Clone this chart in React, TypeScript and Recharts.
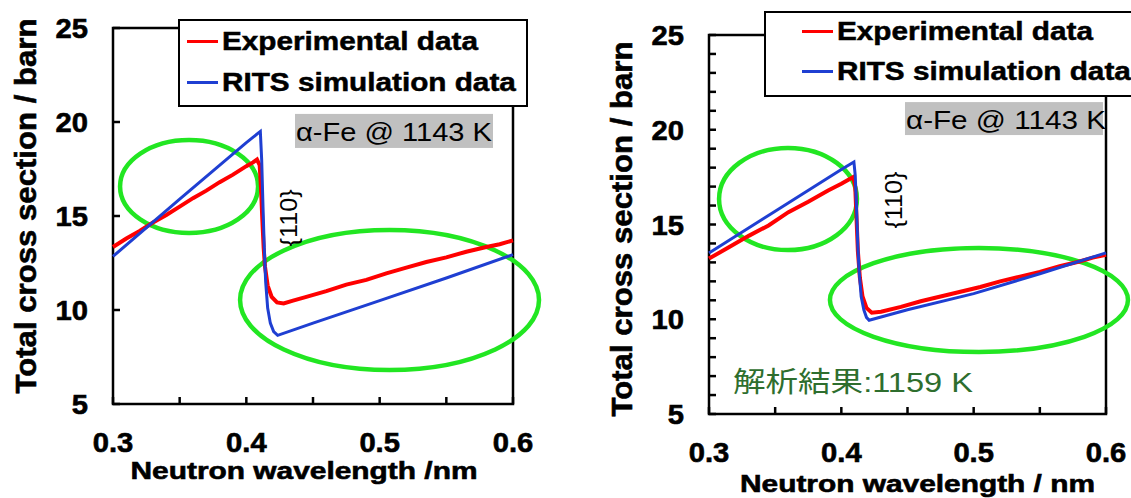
import React from 'react'
import {
  LineChart,
  Line,
  XAxis,
  YAxis,
  ReferenceArea,
  ReferenceDot,
  Legend,
} from 'recharts'

const FONT = '"Liberation Sans", Arial, Helvetica, sans-serif'
const JP_FONT = '"Liberation Sans", "Noto Sans CJK JP", sans-serif'

// #region data (wavelength in nm, cross section in barn)
// left panel
const leftExpWl = [0.3, 0.31, 0.32, 0.33, 0.34, 0.35, 0.36, 0.37, 0.38, 0.39, 0.4, 0.405, 0.408, 0.41, 0.411, 0.412, 0.413, 0.414, 0.416, 0.419, 0.423, 0.428, 0.435, 0.445, 0.46, 0.475, 0.49, 0.505, 0.52, 0.535, 0.55, 0.565, 0.58, 0.59, 0.6]
const leftExpCs = [13.35, 13.8, 14.2, 14.65, 15.05, 15.5, 15.95, 16.35, 16.8, 17.2, 17.65, 17.85, 18.0, 17.7, 16.5, 14.8, 13.3, 12.3, 11.3, 10.7, 10.4, 10.35, 10.5, 10.7, 11.0, 11.35, 11.6, 11.95, 12.25, 12.55, 12.8, 13.1, 13.35, 13.5, 13.7]
const leftSimWl = [0.3, 0.35, 0.4, 0.4105, 0.4115, 0.4125, 0.4135, 0.4145, 0.416, 0.418, 0.4205, 0.4235, 0.45, 0.5, 0.55, 0.6]
const leftSimCs = [12.85, 15.9, 18.9, 19.5, 18.0, 15.5, 13.2, 11.5, 10.1, 9.3, 8.85, 8.65, 9.3, 10.5, 11.7, 12.95]

// right panel
const rightExpWl = [0.3, 0.315, 0.33, 0.345, 0.36, 0.375, 0.39, 0.4, 0.405, 0.409, 0.4105, 0.4115, 0.4125, 0.414, 0.416, 0.419, 0.423, 0.43, 0.445, 0.46, 0.475, 0.49, 0.505, 0.52, 0.535, 0.55, 0.565, 0.58, 0.59, 0.6]
const rightExpCs = [13.2, 13.8, 14.4, 14.95, 15.65, 16.2, 16.8, 17.15, 17.35, 17.5, 17.0, 15.3, 13.6, 12.2, 11.2, 10.6, 10.35, 10.4, 10.65, 10.95, 11.2, 11.45, 11.7, 12.0, 12.25, 12.5, 12.8, 13.05, 13.25, 13.4]
const rightSimWl = [0.3, 0.35, 0.4, 0.4095, 0.4105, 0.4115, 0.4125, 0.4135, 0.415, 0.417, 0.419, 0.421, 0.45, 0.5, 0.55, 0.6]
const rightSimCs = [13.5, 15.7, 17.9, 18.3, 17.6, 15.8, 13.8, 12.5, 11.2, 10.5, 10.1, 9.95, 10.5, 11.35, 12.4, 13.5]

const xTicks = [0.3, 0.35, 0.4, 0.45, 0.5, 0.55, 0.6]
const leftYTicks = [5, 10, 15, 20, 25]
const rightYTicks = [5, 6, 7, 8, 9, 10, 11, 12, 13, 14, 15, 16, 17, 18, 19, 20, 21, 22, 23, 24, 25]

const seriesNames = ['Experimental data', 'RITS simulation data']
const sampleLabel = 'α-Fe @ 1143 K'
const peakLabel = '{110}'
const fitLabel = '解析結果:1159 K'
const yTitle = 'Total cross section / barn'
const xTitleLeft = 'Neutron wavelength /nm'
const xTitleRight = 'Neutron wavelength / nm'
// #endregion

type Pt = { wl: number; cs: number }
const zip = (wl: number[], cs: number[]): Pt[] => wl.map((w, i) => ({ wl: w, cs: cs[i] }))

type Box = [number, number, number, number] // x1, x2, y1, y2 in data units

const GREEN = '#22e622'
const BOLD_STROKE = 0.6

const XTick = (props: any) => {
  const { x, y, payload } = props
  const v = payload.value
  const major = Math.abs(v * 10 - Math.round(v * 10)) < 1e-6
  return (
    <g>
      <line x1={x} y1={y} x2={x} y2={y - 7} stroke="#000" strokeWidth={2.5} />
      {major && (
        <g transform={`translate(${x},${y + 39}) scale(1.08,1)`}>
          <text
            textAnchor="middle"
            dominantBaseline="central"
            fontSize={27}
            fontWeight="bold"
            fontFamily={FONT}
            fill="#000"
            stroke="#000"
            strokeWidth={BOLD_STROKE}
          >
            {v.toFixed(1)}
          </text>
        </g>
      )}
    </g>
  )
}

const YTick = (props: any) => {
  const { x, y, payload } = props
  const v = payload.value
  const major = v % 5 === 0
  return (
    <g>
      <line x1={x} y1={y} x2={x + 7} y2={y} stroke="#000" strokeWidth={2.5} />
      {major && (
        <g transform={`translate(${x - 25},${y + 1}) scale(1.08,1)`}>
          <text
            textAnchor="end"
            dominantBaseline="central"
            fontSize={27}
            fontWeight="bold"
            fontFamily={FONT}
            fill="#000"
            stroke="#000"
            strokeWidth={BOLD_STROKE}
          >
            {v}
          </text>
        </g>
      )}
    </g>
  )
}

const makeLegend = (pad: number, rows: number[]) => ({ payload }: any) => (
  <div
    style={{
      position: 'relative',
      width: '100%',
      height: '100%',
      boxSizing: 'border-box',
      border: '2.5px solid #000',
      background: '#fff',
    }}
  >
    {(payload || []).map((e: any, i: number) => (
      <div
        key={i}
        style={{
          position: 'absolute',
          left: pad,
          top: rows[i] - 15,
          height: 30,
          display: 'flex',
          alignItems: 'center',
          whiteSpace: 'nowrap',
        }}
      >
        <span style={{ flexShrink: 0, width: 31, height: 3, background: e.color }} />
        <span
          style={{
            display: 'inline-block',
            marginLeft: 4,
            fontFamily: FONT,
            fontWeight: 'bold',
            fontSize: 25.5,
            color: '#000',
            WebkitTextStroke: '0.5px #000',
            transform: 'scaleX(1.165)',
            transformOrigin: 'left center',
          }}
        >
          {e.value}
        </span>
      </div>
    ))}
  </div>
)

const ellipseShape = (p: any) => (
  <ellipse
    cx={p.x + p.width / 2}
    cy={p.y + p.height / 2}
    rx={p.width / 2}
    ry={p.height / 2}
    fill="none"
    stroke={GREEN}
    strokeWidth={4.5}
  />
)

const frameShape = (p: any) => (
  <rect x={p.x} y={p.y} width={p.width} height={p.height} fill="none" stroke="#000" strokeWidth={2.5} />
)

const grayShape = (len: number) => (p: any) => (
  <g>
    <rect x={p.x} y={p.y} width={p.width} height={p.height} fill="#c0c0c0" />
    <text
      x={p.x + 1}
      y={p.y + p.height / 2 + 1}
      dominantBaseline="central"
      fontSize={25}
      fontFamily={FONT}
      fill="#000"
      textLength={len}
      lengthAdjust="spacingAndGlyphs"
    >
      {sampleLabel}
    </text>
  </g>
)

const peakShape = (p: any) => (
  <text
    x={p.cx}
    y={p.cy}
    transform={`rotate(-90 ${p.cx} ${p.cy})`}
    textAnchor="middle"
    dominantBaseline="central"
    fontSize={24}
    fontFamily={FONT}
    fill="#000"
    textLength={57}
    lengthAdjust="spacingAndGlyphs"
  >
    {peakLabel}
  </text>
)

const fitShape = (p: any) => (
  <text
    x={p.cx}
    y={p.cy}
    dominantBaseline="central"
    fontSize={28}
    fontFamily={JP_FONT}
    fill="#2e6e2e"
    textLength={240}
    lengthAdjust="spacingAndGlyphs"
  >
    {fitLabel}
  </text>
)

interface PanelProps {
  left: number
  width: number
  margin: { top: number; right: number; left: number; bottom: number }
  yAxisWidth: number
  xAxisHeight: number
  exp: Pt[]
  sim: Pt[]
  yTicks: number[]
  xTitle: string
  xTitleLen: number
  xTitleDx: number
  xTitleDy: number
  yTitleX: number
  yTitleDy: number
  legendBox: { left: number; top: number; width: number; height: number }
  legendPad: number
  legendRows: number[]
  gray: Box
  grayLen: number
  peak: [number, number]
  circles: Box[]
  fit?: [number, number]
}

const Panel: React.FC<PanelProps> = (p) => (
  <div style={{ position: 'absolute', left: p.left, top: 0 }}>
    <LineChart width={p.width} height={498} margin={p.margin}>
      <XAxis
        type="number"
        dataKey="wl"
        domain={[0.3, 0.6]}
        ticks={xTicks}
        interval={0}
        height={p.xAxisHeight}
        axisLine={false}
        tickLine={false}
        tickSize={0}
        tickMargin={0}
        tick={<XTick />}
        label={(lp: any) => {
          const vb = lp.viewBox
          return (
            <text
              x={vb.x + vb.width / 2 + p.xTitleDx}
              y={vb.y + p.xTitleDy}
              textAnchor="middle"
              dominantBaseline="central"
              fontSize={24.5}
              fontWeight="bold"
              fontFamily={FONT}
              fill="#000"
              stroke="#000"
              strokeWidth={BOLD_STROKE}
              textLength={p.xTitleLen}
              lengthAdjust="spacingAndGlyphs"
            >
              {p.xTitle}
            </text>
          )
        }}
      />
      <YAxis
        type="number"
        domain={[5, 25]}
        ticks={p.yTicks}
        interval={0}
        width={p.yAxisWidth}
        axisLine={false}
        tickLine={false}
        tickSize={0}
        tickMargin={0}
        tick={<YTick />}
        label={(lp: any) => {
          const vb = lp.viewBox
          const cx = vb.x + p.yTitleX
          const cy = vb.y + vb.height / 2 + p.yTitleDy
          return (
            <text
              x={cx}
              y={cy}
              transform={`rotate(-90 ${cx} ${cy})`}
              textAnchor="middle"
              dominantBaseline="central"
              fontSize={30}
              fontWeight="bold"
              fontFamily={FONT}
              fill="#000"
              stroke="#000"
              strokeWidth={BOLD_STROKE}
              textLength={375}
              lengthAdjust="spacingAndGlyphs"
            >
              {yTitle}
            </text>
          )
        }}
      />
      <ReferenceArea
        x1={p.gray[0]}
        x2={p.gray[1]}
        y1={p.gray[2]}
        y2={p.gray[3]}
        ifOverflow="visible"
        shape={grayShape(p.grayLen)}
      />
      <Line
        data={p.exp}
        dataKey="cs"
        name={seriesNames[0]}
        type="linear"
        stroke="#ff0000"
        strokeWidth={4}
        dot={false}
        isAnimationActive={false}
      />
      <Line
        data={p.sim}
        dataKey="cs"
        name={seriesNames[1]}
        type="linear"
        stroke="#1f3fd2"
        strokeWidth={3}
        dot={false}
        isAnimationActive={false}
      />
      <ReferenceArea x1={0.3} x2={0.6} y1={5} y2={25} ifOverflow="visible" shape={frameShape} />
      {p.circles.map((c, i) => (
        <ReferenceArea key={i} x1={c[0]} x2={c[1]} y1={c[2]} y2={c[3]} ifOverflow="visible" shape={ellipseShape} />
      ))}
      <ReferenceDot x={p.peak[0]} y={p.peak[1]} r={0} ifOverflow="visible" shape={peakShape} />
      {p.fit && <ReferenceDot x={p.fit[0]} y={p.fit[1]} r={0} ifOverflow="visible" shape={fitShape} />}
      <Legend
        layout="vertical"
        align="center"
        verticalAlign="middle"
        wrapperStyle={{ ...p.legendBox }}
        content={makeLegend(p.legendPad, p.legendRows)}
      />
    </LineChart>
  </div>
)

export default function App() {
  return (
    <div
      style={{
        position: 'absolute',
        left: 0,
        top: 0,
        width: 1131,
        height: 498,
        overflow: 'hidden',
        background: '#fff',
      }}
    >
      <Panel
        left={0}
        width={565}
        margin={{ top: 28, right: 52, left: 0, bottom: 0 }}
        yAxisWidth={113}
        xAxisHeight={94}
        exp={zip(leftExpWl, leftExpCs)}
        sim={zip(leftSimWl, leftSimCs)}
        yTicks={leftYTicks}
        xTitle={xTitleLeft}
        xTitleLen={347}
        xTitleDx={-9}
        xTitleDy={66}
        yTitleX={25}
        yTitleDy={-10}
        legendBox={{ left: 178, top: 19, width: 350, height: 88 }}
        legendPad={6.5}
        legendRows={[20.5, 61.5]}
        gray={[0.4365, 0.585, 20.43, 18.62]}
        grayLen={196}
        peak={[0.4313, 14.9]}
        circles={[
          [0.3053, 0.4088, 19.04, 14.1],
          [0.3953, 0.6195, 14.26, 6.81],
        ]}
      />
      <Panel
        left={565}
        width={566}
        margin={{ top: 35, right: 25, left: 0, bottom: 0 }}
        yAxisWidth={144}
        xAxisHeight={84}
        exp={zip(rightExpWl, rightExpCs)}
        sim={zip(rightSimWl, rightSimCs)}
        yTicks={rightYTicks}
        xTitle={xTitleRight}
        xTitleLen={355}
        xTitleDx={10}
        xTitleDy={69}
        yTitleX={56}
        yTitleDy={4.5}
        legendBox={{ left: 199, top: 11, width: 380, height: 86 }}
        legendPad={35.5}
        legendRows={[18.5, 58.5]}
        gray={[0.4481, 0.5977, 21.46, 19.72]}
        grayLen={200}
        peak={[0.4398, 16.29]}
        circles={[
          [0.3076, 0.4118, 19.04, 13.65],
          [0.3914, 0.6166, 13.76, 8.27],
        ]}
        fit={[0.3181, 6.64]}
      />
    </div>
  )
}
